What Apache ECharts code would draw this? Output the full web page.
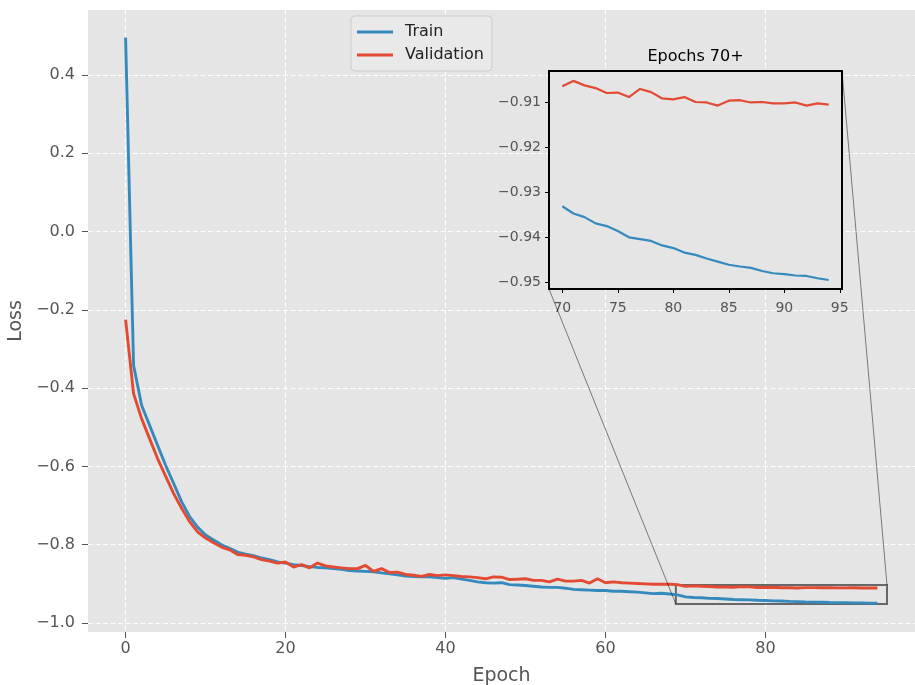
<!DOCTYPE html>
<html><head><meta charset="utf-8">
<script src="https://cdn.jsdelivr.net/npm/echarts@6/dist/echarts.min.js"></script>
<style>html,body{margin:0;padding:0;background:#fff}#c{width:915px;height:685px}</style>
</head><body><div id="c"></div>
<script>
const trainLoss = [
 0.495,-0.342,-0.444,-0.495,-0.546,-0.597,-0.643,-0.690,-0.728,-0.755,
 -0.775,-0.788,-0.800,-0.809,-0.819,-0.824,-0.828,-0.834,-0.838,-0.844,
 -0.847,-0.851,-0.853,-0.856,-0.858,-0.859,-0.861,-0.863,-0.866,-0.867,
 -0.868,-0.869,-0.872,-0.874,-0.877,-0.880,-0.881,-0.882,-0.882,-0.884,
 -0.886,-0.884,-0.888,-0.891,-0.895,-0.897,-0.898,-0.897,-0.902,-0.903,
 -0.904,-0.906,-0.908,-0.909,-0.909,-0.911,-0.914,-0.915,-0.916,-0.917,
 -0.917,-0.919,-0.919,-0.920,-0.921,-0.923,-0.925,-0.924,-0.926,-0.928,
 -0.9331,-0.9347,-0.9355,-0.9369,-0.9375,-0.9386,-0.9400,-0.9404,-0.9408,-0.9418,
 -0.9424,-0.9434,-0.9439,-0.9447,-0.9454,-0.9461,-0.9465,-0.9468,-0.9475,-0.9480,
 -0.9482,-0.9485,-0.9486,-0.9491,-0.9495
];
const valLoss = [
 -0.225,-0.414,-0.478,-0.529,-0.580,-0.625,-0.669,-0.707,-0.741,-0.767,
 -0.783,-0.795,-0.806,-0.813,-0.825,-0.827,-0.831,-0.838,-0.842,-0.847,
 -0.844,-0.857,-0.851,-0.859,-0.847,-0.854,-0.857,-0.859,-0.861,-0.861,
 -0.853,-0.868,-0.861,-0.871,-0.870,-0.876,-0.878,-0.881,-0.876,-0.879,
 -0.877,-0.879,-0.881,-0.882,-0.884,-0.887,-0.882,-0.883,-0.889,-0.888,
 -0.887,-0.891,-0.891,-0.895,-0.888,-0.893,-0.893,-0.891,-0.898,-0.887,
 -0.897,-0.895,-0.897,-0.898,-0.899,-0.900,-0.901,-0.901,-0.901,-0.902,
 -0.9064,-0.9052,-0.9062,-0.9068,-0.9079,-0.9078,-0.9088,-0.9070,-0.9077,-0.9091,
 -0.9093,-0.9088,-0.9099,-0.9100,-0.9107,-0.9096,-0.9095,-0.9100,-0.9099,-0.9102,
 -0.9102,-0.9100,-0.9107,-0.9102,-0.9105
];
const epochs = trainLoss.map((_, i) => i);
const xTicks = [0, 20, 40, 60, 80];
const yTicks = [-1.0, -0.8, -0.6, -0.4, -0.2, 0.0, 0.2, 0.4];
const insetXTicks = [70, 75, 80, 85, 90, 95];
const insetYTicks = [-0.95, -0.94, -0.93, -0.92, -0.91];
const insetStart = 70;
const mainXRange = [-4.7, 98.7];
const mainYRange = [-1.0229, 0.5656];
const zoomX = [68.8, 95.2];
const zoomY = [-0.9515, -0.9030];

const FONT = 'DejaVu Sans';
const fmt = d => v => v.toFixed(d).replace('-', '\u2212');
const pairs = arr => epochs.map((e, i) => [e, arr[i]]);
const insetPairs = arr => epochs.filter(e => e >= insetStart).map(e => [e, arr[e]]);
const BLUE = '#348ABD', RED = '#E24A33';
const gridLine = { show: true, lineStyle: { color: '#ffffff', width: 1.2, type: [5, 2.5] } };

const chart = echarts.init(document.getElementById('c'), null, { renderer: 'canvas' });
chart.setOption({
  animation: false,
  backgroundColor: '#ffffff',
  textStyle: { fontFamily: FONT },
  title: {
    text: 'Epochs 70+', left: 695.5, top: 49, textAlign: 'center', padding: 0,
    textStyle: { fontFamily: FONT, fontSize: 16, fontWeight: 'normal', color: '#000000' }
  },
  legend: {
    data: ['Train', 'Validation'], orient: 'vertical', left: 351, top: 16,
    icon: 'rect', itemWidth: 36, itemHeight: 3, itemGap: 7,
    padding: [8, 8, 8, 6],
    backgroundColor: '#E9E9E9', borderColor: '#CCCCCC', borderWidth: 1, borderRadius: 4,
    textStyle: { fontFamily: FONT, fontSize: 16, color: '#222222', padding: [0, 0, 0, 7] }
  },
  grid: [
    { left: 88, right: 0, top: 10, bottom: 53, show: true, backgroundColor: '#E5E5E5', borderWidth: 0, containLabel: false, outerBoundsMode: 'none' },
    { left: 549, top: 71, width: 293, height: 218, show: true, backgroundColor: '#E5E5E5', borderColor: '#000000', borderWidth: 2, containLabel: false, outerBoundsMode: 'none', z: 5 }
  ],
  xAxis: [
    {
      type: 'value', gridIndex: 0, min: mainXRange[0], max: mainXRange[1],
      name: 'Epoch', nameLocation: 'middle', nameGap: 35,
      nameTextStyle: { fontFamily: FONT, fontSize: 19, color: '#555555' },
      axisLine: { show: false, onZero: false },
      axisTick: { show: true, customValues: xTicks, length: 6, lineStyle: { color: '#555555', width: 1 } },
      axisLabel: { customValues: xTicks, formatter: fmt(0), fontFamily: FONT, fontSize: 16, color: '#555555', margin: 9 },
      splitLine: gridLine
    },
    {
      type: 'value', gridIndex: 1, min: zoomX[0], max: zoomX[1],
      axisLine: { show: false, onZero: false },
      axisTick: { show: true, customValues: insetXTicks, length: 4, lineStyle: { color: '#000000', width: 1 } },
      axisLabel: { customValues: insetXTicks, formatter: fmt(0), fontFamily: FONT, fontSize: 14, color: '#555555', margin: 12 },
      splitLine: gridLine
    }
  ],
  yAxis: [
    {
      type: 'value', gridIndex: 0, min: mainYRange[0], max: mainYRange[1],
      name: 'Loss', nameLocation: 'middle', nameGap: 60, nameRotate: 90,
      nameTextStyle: { fontFamily: FONT, fontSize: 19, color: '#555555' },
      axisLine: { show: false, onZero: false },
      axisTick: { show: true, customValues: yTicks, length: 6, lineStyle: { color: '#555555', width: 1 } },
      axisLabel: { customValues: yTicks, formatter: fmt(1), fontFamily: FONT, fontSize: 16, color: '#555555', margin: 13 },
      splitLine: gridLine
    },
    {
      type: 'value', gridIndex: 1, min: zoomY[0], max: zoomY[1],
      axisLine: { show: false, onZero: false },
      axisTick: { show: true, customValues: insetYTicks, length: 4, lineStyle: { color: '#000000', width: 1 } },
      axisLabel: { customValues: insetYTicks, formatter: fmt(2), fontFamily: FONT, fontSize: 14, color: '#555555', margin: 8 },
      splitLine: gridLine
    }
  ],
  series: [
    {
      name: 'Train', type: 'line', xAxisIndex: 0, yAxisIndex: 0, data: pairs(trainLoss),
      showSymbol: false, symbol: 'none', lineStyle: { color: BLUE, width: 2.9 }, itemStyle: { color: BLUE }, z: 2,
      markArea: {
        silent: true,
        itemStyle: { color: 'rgba(0,0,0,0)', borderColor: 'rgba(0,0,0,0.55)', borderWidth: 2 },
        data: [[{ coord: [zoomX[0], zoomY[1]] }, { coord: [zoomX[1], zoomY[0]] }]]
      }
    },
    {
      name: 'Validation', type: 'line', xAxisIndex: 0, yAxisIndex: 0, data: pairs(valLoss),
      showSymbol: false, symbol: 'none', lineStyle: { color: RED, width: 2.9 }, itemStyle: { color: RED }, z: 3
    },
    {
      name: 'Train', type: 'line', xAxisIndex: 1, yAxisIndex: 1, data: insetPairs(trainLoss),
      showSymbol: false, symbol: 'none', lineStyle: { color: BLUE, width: 2.2 }, itemStyle: { color: BLUE }, z: 6
    },
    {
      name: 'Validation', type: 'line', xAxisIndex: 1, yAxisIndex: 1, data: insetPairs(valLoss),
      showSymbol: false, symbol: 'none', lineStyle: { color: RED, width: 2.2 }, itemStyle: { color: RED }, z: 6
    }
  ]
});

const p1 = chart.convertToPixel({ xAxisIndex: 1, yAxisIndex: 1 }, [zoomX[0], zoomY[0]]);
const q1 = chart.convertToPixel({ xAxisIndex: 0, yAxisIndex: 0 }, [zoomX[0], zoomY[0]]);
const p2 = chart.convertToPixel({ xAxisIndex: 1, yAxisIndex: 1 }, [zoomX[1], zoomY[1]]);
const q2 = chart.convertToPixel({ xAxisIndex: 0, yAxisIndex: 0 }, [zoomX[1], zoomY[1]]);
chart.setOption({
  graphic: [
    { type: 'line', silent: true, z: 10, shape: { x1: p1[0], y1: p1[1], x2: q1[0], y2: q1[1] }, style: { stroke: 'rgba(0,0,0,0.6)', lineWidth: 0.8 } },
    { type: 'line', silent: true, z: 10, shape: { x1: p2[0], y1: p2[1], x2: q2[0], y2: q2[1] }, style: { stroke: 'rgba(0,0,0,0.6)', lineWidth: 0.8 } }
  ]
});
</script>
</body></html>
